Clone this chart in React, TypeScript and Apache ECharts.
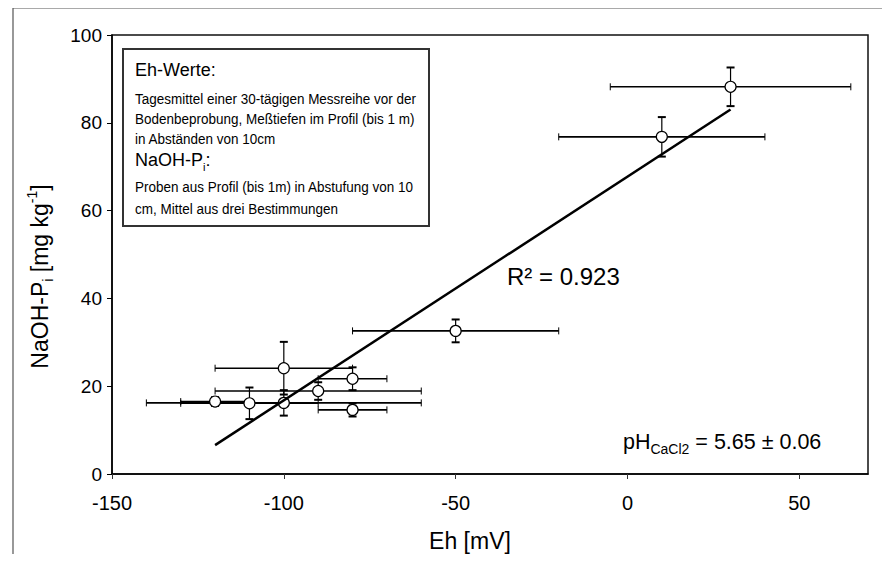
import React, { useEffect, useRef } from "react";
import * as echarts from "echarts";

// Data
const ehValues = [-120, -110, -100, -100, -90, -80, -80, -50, 10, 30];
const ehErrors = [10, 20, 40, 20, 30, 10, 10, 30, 30, 35];
const naohValues = [16.5, 16.1, 16.2, 24.1, 18.9, 21.7, 14.6, 32.6, 76.8, 88.2];
const naohErrors = [1, 3.6, 2.9, 6, 2, 2.6, 1.5, 2.6, 4.5, 4.4];

const xAxisRange = [-150, 70];
const xTickStep = 50;
const yAxisRange = [0, 100];
const yTickStep = 20;

const r2Label = "0.923";
const phLabel = "5.65 ± 0.06";
const noteLines = [
  "Tagesmittel einer 30-tägigen Messreihe vor der",
  "Bodenbeprobung, Meßtiefen im Profil (bis 1 m)",
  "in Abständen von 10cm",
];
const noteLines2 = [
  "Proben aus Profil (bis 1m) in Abstufung von 10",
  "cm, Mittel aus drei Bestimmungen",
];

const FONT = '"Liberation Sans", Arial, Helvetica, sans-serif';

function regression(xs: number[], ys: number[]) {
  const n = xs.length;
  const mx = xs.reduce((a, b) => a + b, 0) / n;
  const my = ys.reduce((a, b) => a + b, 0) / n;
  let sxy = 0;
  let sxx = 0;
  for (let i = 0; i < n; i++) {
    sxy += (xs[i] - mx) * (ys[i] - my);
    sxx += (xs[i] - mx) * (xs[i] - mx);
  }
  const slope = sxy / sxx;
  return { slope, intercept: my - slope * mx };
}

export default function App() {
  const ref = useRef<HTMLDivElement>(null);

  useEffect(() => {
    if (!ref.current) return;
    const chart = echarts.init(ref.current, undefined, { renderer: "svg" });
    const { slope, intercept } = regression(ehValues, naohValues);
    const xmin = Math.min(...ehValues);
    const xmax = Math.max(...ehValues);
    const trend = [
      [xmin, intercept + slope * xmin],
      [xmax, intercept + slope * xmax],
    ];
    const errData = ehValues.map((x, i) => [x, naohValues[i], ehErrors[i], naohErrors[i]]);
    const pts = ehValues.map((x, i) => [x, naohValues[i]]);

    const boxX = 123;
    const boxY = 49;
    const textX = 135;
    const small = 14.5;
    const smallScale = 0.93;
    const head = 18;

    const smallText = (s: string, y: number) => ({
      type: "text",
      x: textX,
      y,
      scaleX: smallScale,
      originX: 0,
      originY: 0,
      style: { text: s, fontSize: small, fontFamily: FONT, fill: "#000", verticalAlign: "middle" },
    });

    chart.setOption({
      animation: false,
      backgroundColor: "#fff",
      grid: {
        left: 112,
        right: 22,
        top: 35,
        bottom: 88,
        show: true,
        borderColor: "#111",
        borderWidth: 1.5,
        containLabel: false,
      },
      xAxis: {
        type: "value",
        min: xAxisRange[0],
        max: xAxisRange[1],
        interval: xTickStep,
        splitLine: { show: false },
        axisLine: { show: true, onZero: false, lineStyle: { color: "#000", width: 1.5 } },
        axisTick: { show: true, inside: false, length: 5, lineStyle: { color: "#333", width: 1 } },
        axisLabel: {
          showMaxLabel: false,
          color: "#000",
          fontSize: 20,
          fontFamily: FONT,
          margin: 19,
        },
        name: "Eh [mV]",
        nameLocation: "middle",
        nameGap: 55,
        nameTextStyle: { color: "#000", fontSize: 23, fontFamily: FONT, padding: [0, 40, 0, 0] },
      },
      yAxis: {
        type: "value",
        min: yAxisRange[0],
        max: yAxisRange[1],
        interval: yTickStep,
        splitLine: { show: false },
        axisLine: { show: true, onZero: false, lineStyle: { color: "#000", width: 1.5 } },
        axisTick: { show: true, inside: false, length: 5, lineStyle: { color: "#000", width: 1 } },
        axisLabel: { color: "#000", fontSize: 19, fontFamily: FONT, margin: 10 },
        name: "{a|NaOH-P}{sub|i}{a| [mg kg}{sup|-1}{a|]}",
        nameLocation: "middle",
        nameGap: 57,
        nameRotate: 90,
        nameTextStyle: {
          color: "#000",
          fontFamily: FONT,
          padding: [0, 44, 0, 0],
          rich: {
            a: { fontSize: 23, fontFamily: FONT, color: "#000", lineHeight: 30 },
            sub: { fontSize: 14, fontFamily: FONT, color: "#000", verticalAlign: "bottom", lineHeight: 14 },
            sup: { fontSize: 14, fontFamily: FONT, color: "#000", verticalAlign: "top", lineHeight: 14 },
          },
        },
      },
      series: [
        {
          type: "custom",
          z: 2,
          data: errData,
          renderItem: (params: any, api: any) => {
            const x = api.value(0);
            const y = api.value(1);
            const ex = api.value(2);
            const ey = api.value(3);
            const l = api.coord([x - ex, y]);
            const r = api.coord([x + ex, y]);
            const t = api.coord([x, y + ey]);
            const b = api.coord([x, y - ey]);
            const hc = 3.5;
            const vc = 4;
            const st = (w: number) => ({ stroke: "#000", lineWidth: w, fill: null });
            return {
              type: "group",
              children: [
                { type: "line", shape: { x1: l[0], y1: l[1], x2: r[0], y2: r[1] }, style: st(1.6) },
                { type: "line", shape: { x1: l[0], y1: l[1] - hc, x2: l[0], y2: l[1] + hc }, style: st(1) },
                { type: "line", shape: { x1: r[0], y1: r[1] - hc, x2: r[0], y2: r[1] + hc }, style: st(1) },
                { type: "line", shape: { x1: t[0], y1: t[1], x2: b[0], y2: b[1] }, style: st(1.2) },
                { type: "line", shape: { x1: t[0] - vc, y1: t[1], x2: t[0] + vc, y2: t[1] }, style: st(2) },
                { type: "line", shape: { x1: b[0] - vc, y1: b[1], x2: b[0] + vc, y2: b[1] }, style: st(2) },
              ],
            };
          },
        },
        {
          type: "scatter",
          z: 3,
          data: pts,
          symbol: "circle",
          symbolSize: 11,
          itemStyle: { color: "#fff", borderColor: "#000", borderWidth: 1.2, opacity: 1 },
        },
        {
          type: "line",
          z: 4,
          data: trend,
          symbol: "none",
          lineStyle: { color: "#000", width: 2.5 },
        },
      ],
      graphic: [
        {
          type: "polyline",
          silent: true,
          shape: { points: [[13, 600], [13, 8], [886, 8], [886, 600]] },
          style: { stroke: "#555", lineWidth: 1.2, fill: null },
        },
        {
          type: "group",
          z: 10,
          children: [
            {
              type: "rect",
              shape: { x: boxX, y: boxY, width: 306, height: 177 },
              style: { fill: "#fff", stroke: "#333", lineWidth: 2 },
            },
            {
              type: "text",
              x: textX,
              y: 70,
              style: { text: "Eh-Werte:", fontSize: head, fontFamily: FONT, fill: "#000", verticalAlign: "middle" },
            },
            ...noteLines.map((s, i) => smallText(s, 99 + i * 20)),
            {
              type: "text",
              x: textX,
              y: 160,
              style: {
                text: "{a|NaOH-P}{sub|i}{a|:}",
                fontFamily: FONT,
                fill: "#000",
                verticalAlign: "middle",
                rich: {
                  a: { fontSize: head, fontFamily: FONT, fill: "#000", lineHeight: 24 },
                  sub: { fontSize: 11, fontFamily: FONT, fill: "#000", verticalAlign: "bottom", lineHeight: 11 },
                },
              },
            },
            ...noteLines2.map((s, i) => smallText(s, 187 + i * 22)),
          ],
        },
        {
          type: "text",
          x: 507,
          y: 276,
          style: {
            text: "R² = " + r2Label,
            fontSize: 24,
            fontFamily: FONT,
            fill: "#000",
            verticalAlign: "middle",
          },
        },
        {
          type: "text",
          x: 623,
          y: 442,
          style: {
            text: "{a|pH}{sub|CaCl2}{a| = " + phLabel + "}",
            fontFamily: FONT,
            fill: "#000",
            verticalAlign: "middle",
            rich: {
              a: { fontSize: 21.5, fontFamily: FONT, fill: "#000", lineHeight: 28 },
              sub: { fontSize: 14, fontFamily: FONT, fill: "#000", verticalAlign: "bottom", lineHeight: 14 },
            },
          },
        },
      ],
    });
    return () => chart.dispose();
  }, []);

  return <div ref={ref} style={{ width: 890, height: 562, margin: -8 }} />;
}
